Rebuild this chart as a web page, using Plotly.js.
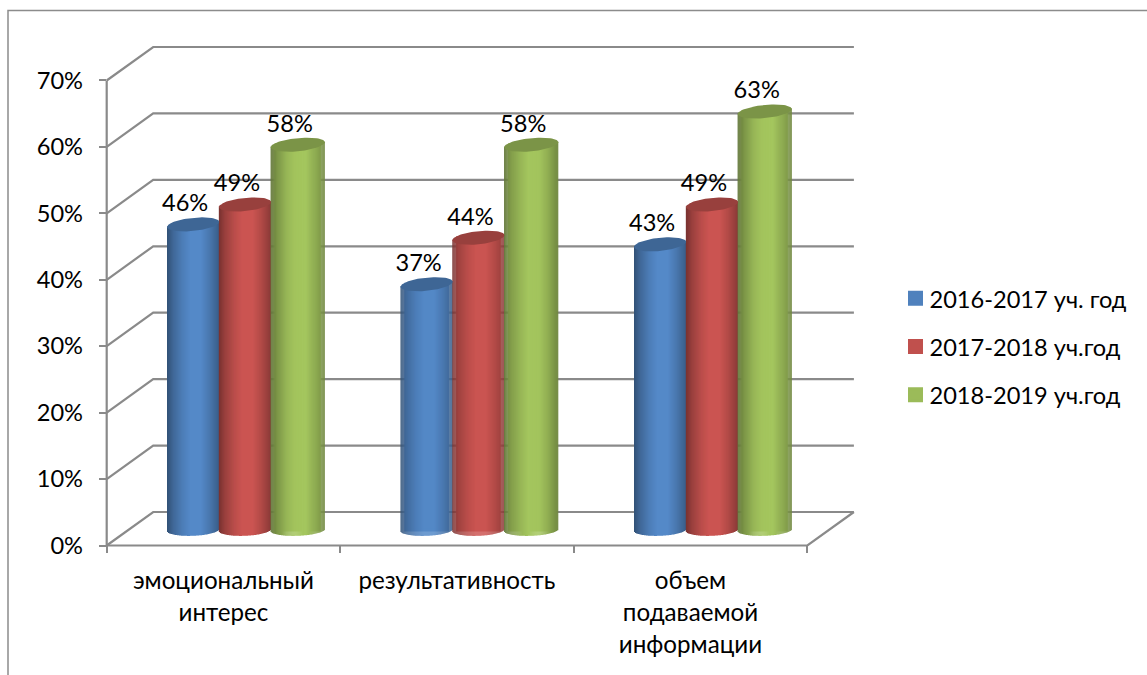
<!DOCTYPE html>
<html><head><meta charset="utf-8">
<script src="https://cdn.plot.ly/plotly-3.0.1.min.js"></script>
<style>html,body{margin:0;padding:0;background:#fff}</style></head>
<body><div id="chart" style="width:1147px;height:675px"></div>
<script>
const S = t => '<span style="font-size:24.2px">'+t+'</span>';
const categories = [S('эмоциональный')+'<br>'+S('интерес'), S('результативность'), S('объем')+'<br>'+S('подаваемой')+'<br>'+S('информации')];
const seriesNames = ['2016-2017 уч. год','2017-2018 уч.год','2018-2019 уч.год'];
const values2016 = [46,37,43];
const values2017 = [49,44,49];
const values2018 = [58,58,63];
const colors = ['#4f81bd','#c0504d','#9bbb59'];
const capColors = ['#3e6695','#98403d','#7b9447'];
const yTicks = [0,10,20,30,40,50,60,70];
const FONT = 'Lato, "Noto Sans", sans-serif';
const GRID = '#8a8a8a';
const TEXTSIZE = 23.6;

const pxX = 233.5, pxY = 6.643;           // pixels per category / per 1%
const depthX = 46.5/pxX, depthY = 33.5/pxY; // offset of the back wall
const baseY = 15.5/pxY;                    // floor level under the cylinders
const xEnd = 3.2;
const groupOffsets = [0.592-0.222, 0.592, 0.592+0.226];
const widths = [52/pxX, 52/pxX, 54/pxX];
const shadeStops = [[0,.62],[.12,.8],[.3,.97],[.45,1.06],[.65,1.06],[.82,.92],[1,.72]];

function shade(hex,t){
  let s=1;
  for(let i=1;i<shadeStops.length;i++){
    if(t<=shadeStops[i][0]){
      const [a,b]=shadeStops[i-1],[c,d]=shadeStops[i];
      s=b+(d-b)*(t-a)/(c-a);break;
    }
  }
  const n=parseInt(hex.slice(1),16);
  const ch=[n>>16,(n>>8)&255,n&255].map(v=>Math.min(255,Math.round(v*s)));
  return `rgb(${ch.join(',')})`;
}

const allValues=[values2016,values2017,values2018];
const traces=[];
// plain bars carry the values and the legend
allValues.forEach((vals,s)=>{
  traces.push({type:'bar',name:seriesNames[s],legendgroup:'g'+s,
    x:vals.map((_,k)=>k+groupOffsets[s]),y:vals,base:vals.map(()=>baseY),
    width:vals.map(()=>widths[s]*0.8),
    marker:{color:colors[s],line:{color:colors[s],width:3}},hoverinfo:'y'});
});
// shaded strips that turn each bar into a cylinder
const N=52;
const capB=6.6/pxY, capTilt=2.5/pxY, botB=5.8/pxY, botTilt=1/pxY;
allValues.forEach((vals,s)=>{
  const xs=[],bs=[],hs=[],cs=[],ws=[];
  vals.forEach((v,k)=>{
    const c=k+groupOffsets[s],w=widths[s];
    for(let i=0;i<N;i++){
      const t=(i+.5)/N, u=2*t-1, r=Math.sqrt(1-u*u);
      xs.push(c+u*w/2); ws.push(w/N*1.2);
      const lo=baseY+botTilt*u-botB*r, hi=baseY+v+capTilt*u-capB*r+0.3;
      bs.push(lo); hs.push(hi-lo); cs.push(shade(colors[s],t));
    }
  });
  traces.push({type:'bar',x:xs,y:hs,base:bs,width:ws,showlegend:false,hoverinfo:'skip',
    marker:{color:cs,line:{width:0}}});
});
// elliptical tops
allValues.forEach((vals,s)=>{
  vals.forEach((v,k)=>{
    const c=k+groupOffsets[s],w=widths[s],xs=[],ys=[];
    for(let a=0;a<=72;a++){
      const th=a/72*2*Math.PI,u=Math.cos(th);
      xs.push(c+u*w/2); ys.push(baseY+v+capTilt*u+capB*Math.sin(th));
    }
    traces.push({type:'scatter',mode:'lines',x:xs,y:ys,fill:'toself',fillcolor:capColors[s],
      line:{width:0,color:capColors[s]},showlegend:false,hoverinfo:'skip'});
  });
});
// data labels
const lx=[],ly=[],lt=[];
allValues.forEach((vals,s)=>vals.forEach((v,k)=>{
  lx.push(k+groupOffsets[s]-8/pxX); ly.push(baseY+v+19/pxY); lt.push(v+'%');
}));
traces.push({type:'scatter',mode:'text',x:lx,y:ly,text:lt,textposition:'middle center',
  textfont:{family:FONT,size:TEXTSIZE,color:'#000'},showlegend:false,hoverinfo:'skip',cliponaxis:false});

// walls
const line={color:GRID,width:2.2};
const shapes=yTicks.map(v=>({type:'path',layer:'below',xref:'x',yref:'y',line,
  path:`M0,${v}L${depthX},${v+depthY}L${xEnd},${v+depthY}`}));
shapes.push({type:'path',layer:'below',xref:'x',yref:'y',line,path:`M0,0L0,70`});
shapes.push({type:'path',layer:'below',xref:'x',yref:'y',line,
  path:`M0,0L${xEnd-depthX},0L${xEnd},${depthY}`});
// outer frame
const L=99,W=756,T=45,H=508;
const fx=p=>(p-L)/W, fy=p=>1-(p-T)/H;
const frame={color:'#8c8c8c',width:1.5};
shapes.push({type:'path',layer:'below',xref:'paper',yref:'paper',line:frame,
  path:`M${fx(8)},${fy(675)}L${fx(8)},${fy(10.5)}L${fx(1147)},${fy(10.5)}`});

const layout={width:1147,height:675,margin:{l:L,r:1147-L-W,t:T,b:675-T-H,autoexpand:false},
  paper_bgcolor:'#fff',plot_bgcolor:'rgba(0,0,0,0)',barmode:'overlay',
  font:{family:FONT,color:'#000'},shapes,
  xaxis:{range:[(L-106.7)/pxX,(L+W-106.7)/pxX],tickmode:'array',tickvals:[.5,1.5,2.5],ticktext:categories,
    ticks:'',showgrid:false,zeroline:false,showline:false,tickangle:0,
    tickfont:{family:FONT,size:24.6,color:'#000'},ticklabelstandoff:10,
    minor:{tickmode:'array',tickvals:[0,1,2,3],ticks:'inside',ticklen:8,tickwidth:2,tickcolor:GRID,showgrid:false}},
  yaxis:{range:[(545.5-(T+H))/pxY,(545.5-T)/pxY],tickmode:'array',tickvals:yTicks,ticktext:yTicks.map(v=>v+'%'),
    ticks:'inside',ticklen:7,tickwidth:2,tickcolor:GRID,showgrid:false,zeroline:false,showline:false,
    tickfont:{family:FONT,size:TEXTSIZE,color:'#000'},ticklabelstandoff:15},
  legend:{xref:'container',yref:'container',x:895.5/1147,y:1-276.5/675,xanchor:'left',yanchor:'top',
    font:{family:FONT,size:TEXTSIZE,color:'#000'},
    tracegroupgap:14.5,bgcolor:'rgba(0,0,0,0)',traceorder:'grouped'},
  showlegend:true};
Plotly.newPlot('chart',traces,layout,{displayModeBar:false,staticPlot:true}).then(()=>{
  document.querySelectorAll('.legendtext').forEach(e=>e.setAttribute('x',34));
});
</script></body></html>
